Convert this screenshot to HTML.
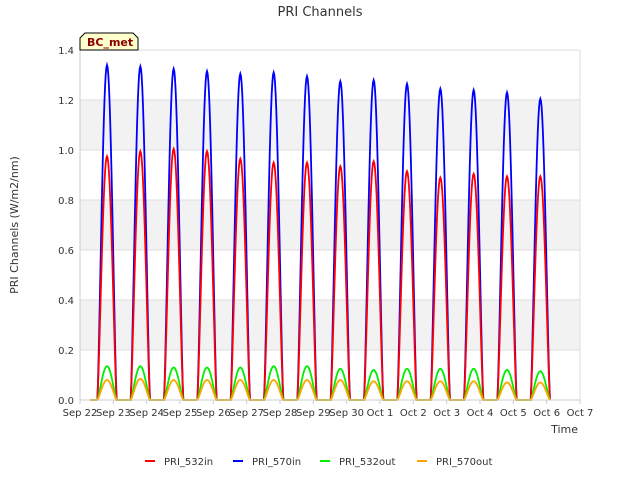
<!DOCTYPE html>
<html><head><meta charset="utf-8"><style>
body{margin:0;background:#fff;font-family:"Liberation Sans","DejaVu Sans",sans-serif;}
svg text{font-family:"DejaVu Sans","Liberation Sans",sans-serif;}
</style></head><body>
<svg id="chart" width="640" height="480">
<text x="320" y="16" text-anchor="middle" font-size="13" fill="#333">PRI Channels</text>
<g id="bands"></g>
<g id="grid"></g>
<g id="series"></g>
<g id="axes"></g>
<text transform="translate(18,225) rotate(-90)" text-anchor="middle" font-size="11" fill="#333">PRI Channels (W/m2/nm)</text>
<text x="578" y="433" text-anchor="end" font-size="11" fill="#333">Time</text>
<g>
<path d="M80,50 L80,38 L85,33 L133,33 L138,38 L138,50 Z" fill="#ffffcc" stroke="#000" stroke-width="1"/>
<text x="87" y="46" font-size="11" font-weight="bold" fill="#8b0000">BC_met</text>
</g>
<g id="legend"></g>
</svg>
<script>
const dayLabels=["Sep 22","Sep 23","Sep 24","Sep 25","Sep 26","Sep 27","Sep 28","Sep 29","Sep 30","Oct 1","Oct 2","Oct 3","Oct 4","Oct 5","Oct 6","Oct 7"];
const yTicks=[0,0.2,0.4,0.6,0.8,1.0,1.2,1.4];
const seriesNames=["PRI_532in","PRI_570in","PRI_532out","PRI_570out"];
const pri570in=[1.34,1.335,1.325,1.315,1.305,1.31,1.295,1.275,1.28,1.265,1.245,1.24,1.23,1.205];
const pri532in=[0.975,0.995,1.005,0.995,0.965,0.95,0.95,0.935,0.955,0.915,0.89,0.905,0.895,0.895];
const pri532out=[0.135,0.135,0.13,0.13,0.13,0.135,0.135,0.125,0.12,0.125,0.125,0.125,0.12,0.115];
const pri570out=[0.08,0.085,0.08,0.08,0.08,0.08,0.08,0.08,0.075,0.075,0.075,0.075,0.07,0.07];
const colors=["#ff0000","#0000ff","#00ee00","#ffa500"];
const X0=80,X1=580,Y0=400,Y1=50;
const xs=d=>X0+d*(X1-X0)/15;
const ys=v=>Y0-v*(Y0-Y1)/1.4;
const NS="http://www.w3.org/2000/svg";
function mk(tag,attrs,parent){const e=document.createElementNS(NS,tag);for(const k in attrs)e.setAttribute(k,attrs[k]);parent.appendChild(e);return e;}
const bands=document.getElementById('bands'),grid=document.getElementById('grid'),axes=document.getElementById('axes'),ser=document.getElementById('series'),leg=document.getElementById('legend');
mk('rect',{x:X0,y:Y1,width:X1-X0,height:Y0-Y1,fill:'#fff'},bands);
for(let i=1;i<yTicks.length-1;i+=2){
 const b=mk('rect',{x:X0,y:ys(yTicks[i+1]),width:X1-X0,height:ys(yTicks[i])-ys(yTicks[i+1]),fill:'#f2f2f2'},bands);
 
 
}
yTicks.forEach(v=>{
 mk('line',{x1:X0,x2:X1,y1:ys(v),y2:ys(v),stroke:'#dddddd','stroke-width':1},grid);
 const t=mk('text',{x:X0-6,y:ys(v)+4,'text-anchor':'end','font-size':10,fill:'#333'},axes);
 t.textContent=v.toFixed(1);
 
 
});
mk('line',{x1:X1,x2:X1,y1:Y1,y2:Y0,stroke:'#dddddd'},grid);
mk('line',{x1:X0,x2:X0,y1:Y1,y2:Y0,stroke:'#ccc'},axes);
mk('line',{x1:X0,x2:X1,y1:Y0,y2:Y0,stroke:'#ccc'},axes);
dayLabels.forEach((l,i)=>{
 mk('line',{x1:xs(i),x2:xs(i),y1:Y0,y2:Y0+4,stroke:'#ccc'},axes);
 const t=mk('text',{x:xs(i),y:Y0+16,'text-anchor':'middle','font-size':10,fill:'#333'},axes);
 t.textContent=l;
 
 
});
function path(peaks){
 let d=`M${xs(0.3)},${ys(0)}`;
 peaks.forEach((p,i)=>{
  const s=i+0.52,e=i+1.10;
  d+=` L${xs(s)},${ys(0)}`;
  for(let k=0;k<=30;k++){const f=k/30;const v=p*Math.pow(Math.sin(Math.PI*f),1.3);d+=` L${xs(s+f*(e-s)).toFixed(2)},${ys(v).toFixed(2)}`;}
 });
 d+=` L${xs(14.1)},${ys(0)}`;
 return d;
}
const data=[pri532in,pri570in,pri532out,pri570out];
[1,0,2,3].forEach(k=>{
 const p=mk('path',{d:path(data[k]),fill:'none',stroke:colors[k],'stroke-width':1.8},ser);
 
 
});
const lx=[145,233,320,417];
seriesNames.forEach((n,i)=>{
 const g=mk('g',{},leg);
 
 
 mk('line',{x1:lx[i],x2:lx[i]+10,y1:461,y2:461,stroke:colors[i],'stroke-width':2},g);
 const t=mk('text',{x:lx[i]+19,y:465,'font-size':10,fill:'#333'},g);
 t.textContent=n;
});
</script>
</body></html>
